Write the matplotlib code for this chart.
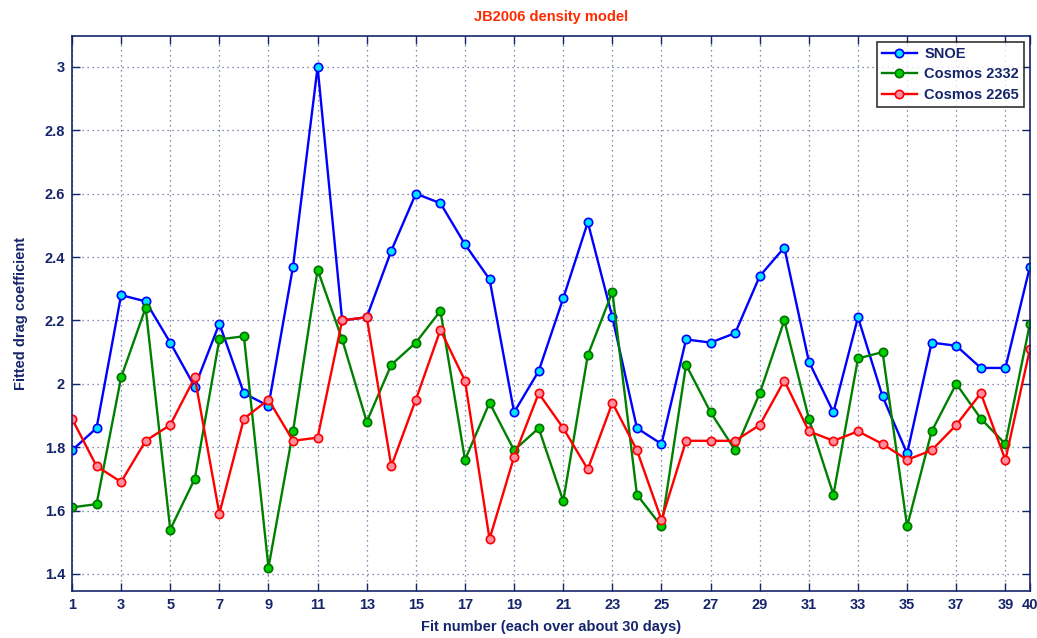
import matplotlib
matplotlib.use("Agg")
import matplotlib.pyplot as plt

fit_number = list(range(1, 41))
snoe = [1.79, 1.86, 2.28, 2.26, 2.13, 1.99, 2.19, 1.97, 1.93, 2.37,
        3.00, 2.20, 2.21, 2.42, 2.60, 2.57, 2.44, 2.33, 1.91, 2.04,
        2.27, 2.51, 2.21, 1.86, 1.81, 2.14, 2.13, 2.16, 2.34, 2.43,
        2.07, 1.91, 2.21, 1.96, 1.78, 2.13, 2.12, 2.05, 2.05, 2.37]
cosmos_2332 = [1.61, 1.62, 2.02, 2.24, 1.54, 1.70, 2.14, 2.15, 1.42, 1.85,
               2.36, 2.14, 1.88, 2.06, 2.13, 2.23, 1.76, 1.94, 1.79, 1.86,
               1.63, 2.09, 2.29, 1.65, 1.55, 2.06, 1.91, 1.79, 1.97, 2.20,
               1.89, 1.65, 2.08, 2.10, 1.55, 1.85, 2.00, 1.89, 1.81, 2.19]
cosmos_2265 = [1.89, 1.74, 1.69, 1.82, 1.87, 2.02, 1.59, 1.89, 1.95, 1.82,
               1.83, 2.20, 2.21, 1.74, 1.95, 2.17, 2.01, 1.51, 1.77, 1.97,
               1.86, 1.73, 1.94, 1.79, 1.57, 1.82, 1.82, 1.82, 1.87, 2.01,
               1.85, 1.82, 1.85, 1.81, 1.76, 1.79, 1.87, 1.97, 1.76, 2.11]
xtick_values = [1, 3, 5, 7, 9, 11, 13, 15, 17, 19, 21, 23, 25, 27, 29, 31, 33, 35, 37, 39, 40]
ytick_values = [1.4, 1.6, 1.8, 2.0, 2.2, 2.4, 2.6, 2.8, 3.0]
ytick_labels = ["1.4", "1.6", "1.8", "2", "2.2", "2.4", "2.6", "2.8", "3"]

plt.rcParams['font.family'] = ['Liberation Sans', 'DejaVu Sans']
navy = '#15256b'

fig = plt.figure(figsize=(10.37, 6.38), dpi=100)
ax = fig.add_axes([0.0694, 0.0737, 0.9238, 0.870])

ax.plot(fit_number, snoe, '-o', color='#0000ff', lw=1.7, ms=6,
        mfc='#00e5ff', mec='#0000ff', mew=1.2, label='SNOE')
ax.plot(fit_number, cosmos_2332, '-o', color='#008000', lw=1.7, ms=6,
        mfc='#00d000', mec='#007000', mew=1.2, label='Cosmos 2332')
ax.plot(fit_number, cosmos_2265, '-o', color='#ff0000', lw=1.7, ms=6,
        mfc='#ff8fa0', mec='#ff0000', mew=1.2, label='Cosmos 2265')

ax.set_xlim(1, 40)
ax.set_ylim(1.346, 3.098)
ax.set_xticks(xtick_values)
ax.set_yticks(ytick_values)
ax.set_yticklabels(ytick_labels)
ax.tick_params(direction='in', top=True, right=True, length=6, width=1,
               colors=navy, labelsize=10.5, pad=5)
for lab in ax.get_xticklabels() + ax.get_yticklabels():
    lab.set_fontweight('bold')
    lab.set_color(navy)
for s in ax.spines.values():
    s.set_color(navy)
    s.set_linewidth(1.2)
ax.grid(True, linestyle=(0, (1, 3)), color='#5a6a9a', linewidth=0.9)

ax.set_xlabel('Fit number (each over about 30 days)', fontsize=10.5,
              fontweight='bold', color=navy, labelpad=6)
ax.set_ylabel('Fitted drag coefficient', fontsize=10.5,
              fontweight='bold', color=navy, labelpad=12)
ax.set_title('JB2006 density model', fontsize=10.5, fontweight='bold',
             color='#ff2a00', pad=11)

leg = ax.legend(loc='upper right', prop={'weight': 'bold', 'size': 10.5},
                frameon=True, fancybox=False, shadow=False, borderaxespad=0.4,
                handlelength=2.4, handletextpad=0.5, labelspacing=0.45, borderpad=0.35)
leg.get_frame().set_edgecolor('black')
leg.get_frame().set_linewidth(1.2)
for t in leg.get_texts():
    t.set_color(navy)

fig.savefig('out.png', dpi=100)
